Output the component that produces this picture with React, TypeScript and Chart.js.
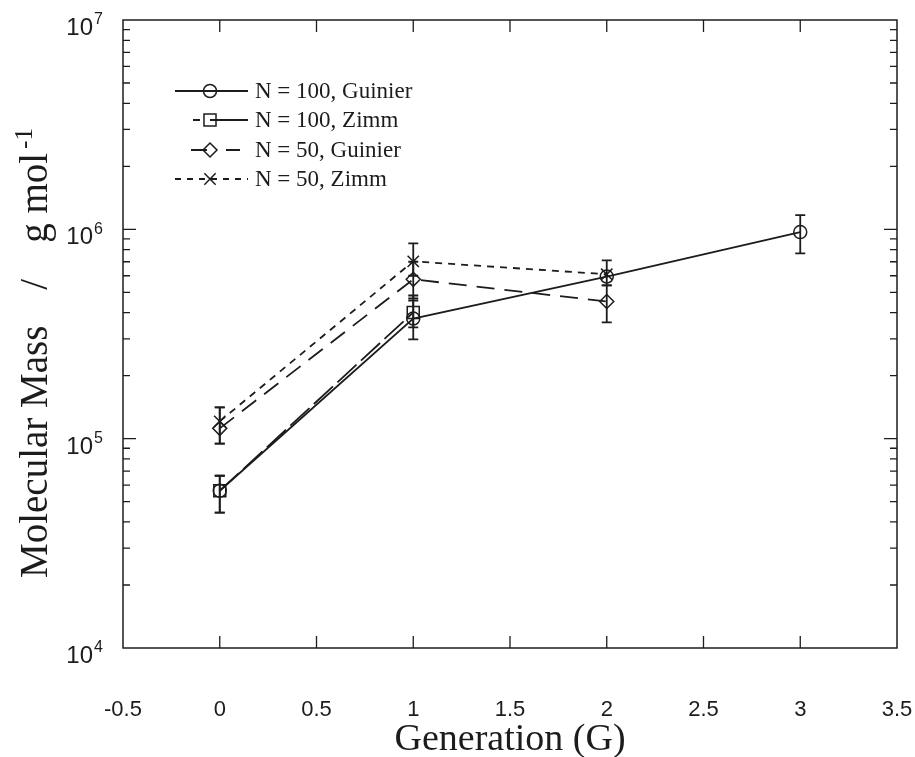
import React, { useEffect, useRef } from 'react';
import { Chart, registerables } from 'chart.js';

Chart.register(...registerables);

// ---------- data ----------
const gen100Guinier = [0, 1, 2, 3];
const n100Guinier = [5.64e4, 3.75e5, 5.95e5, 9.7e5];
const n100GuinierHi = [6.65e4, 4.57e5, null, 1.17e6];
const n100GuinierLo = [4.43e4, 2.98e5, null, 7.67e5];

const gen100Zimm = [0, 1];
const n100Zimm = [5.64e4, 4.01e5];
const n100ZimmHi = [6.65e4, 4.83e5];
const n100ZimmLo = [4.43e4, 3.4e5];

const gen50Guinier = [0, 1, 2];
const n50Guinier = [1.12e5, 5.77e5, 4.52e5];
const n50GuinierHi = [1.41e5, 7.0e5, 5.4e5];
const n50GuinierLo = [9.46e4, 4.68e5, 3.59e5];

const gen50Zimm = [0, 1, 2];
const n50Zimm = [1.21e5, 7.03e5, 6.1e5];
const n50ZimmHi = [1.41e5, 8.57e5, 7.1e5];
const n50ZimmLo = [9.46e4, 6.0e5, 5.4e5];

const seriesLabels = ['N = 100, Guinier', 'N = 100, Zimm', 'N = 50, Guinier', 'N = 50, Zimm'];
const yTickExponents = [4, 5, 6, 7];
const xTitle = 'Generation (G)';
const yTitleParts = ['Molecular Mass', '/', 'g mol'];
const yTitleSup = '-1';

const INK = '#1c1c1c';

function drawMarker(ctx: CanvasRenderingContext2D, style: string, x: number, y: number, r: number) {
  ctx.save();
  ctx.setLineDash([]);
  ctx.strokeStyle = INK;
  ctx.lineWidth = 1.5;
  ctx.beginPath();
  if (style === 'circle') {
    ctx.arc(x, y, r, 0, Math.PI * 2);
  } else if (style === 'rect') {
    const s = r * Math.SQRT1_2;
    ctx.rect(x - s, y - s, 2 * s, 2 * s);
  } else if (style === 'rectRot') {
    ctx.moveTo(x, y - r);
    ctx.lineTo(x + r, y);
    ctx.lineTo(x, y + r);
    ctx.lineTo(x - r, y);
    ctx.closePath();
  } else if (style === 'crossRot') {
    const s = r * Math.SQRT1_2;
    ctx.moveTo(x - s, y - s);
    ctx.lineTo(x + s, y + s);
    ctx.moveTo(x + s, y - s);
    ctx.lineTo(x - s, y + s);
  }
  ctx.stroke();
  ctx.restore();
}

const decor = {
  id: 'decor',
  beforeDatasetsDraw(chart: any) {
    const ctx: CanvasRenderingContext2D = chart.ctx;
    const xs = chart.scales.x;
    const ys = chart.scales.y;
    ctx.save();
    ctx.strokeStyle = INK;
    ctx.lineWidth = 1.8;
    ctx.setLineDash([]);
    chart.data.datasets.forEach((ds: any) => {
      ds.data.forEach((p: any, i: number) => {
        const hi = ds.errHi[i];
        const lo = ds.errLo[i];
        if (hi == null || lo == null) return;
        const x = xs.getPixelForValue(p.x);
        const yh = ys.getPixelForValue(hi);
        const yl = ys.getPixelForValue(lo);
        ctx.beginPath();
        ctx.moveTo(x, yh);
        ctx.lineTo(x, yl);
        ctx.moveTo(x - 5, yh);
        ctx.lineTo(x + 5, yh);
        ctx.moveTo(x - 5, yl);
        ctx.lineTo(x + 5, yl);
        ctx.stroke();
      });
    });
    ctx.restore();
  },
  afterDraw(chart: any) {
    const ctx: CanvasRenderingContext2D = chart.ctx;
    const xs = chart.scales.x;
    const ys = chart.scales.y;
    const { left, right, top, bottom } = chart.chartArea;
    ctx.save();
    ctx.strokeStyle = INK;
    ctx.fillStyle = INK;
    ctx.setLineDash([]);
    // frame
    ctx.lineWidth = 1.5;
    ctx.strokeRect(left, top, right - left, bottom - top);
    // x ticks
    ctx.lineWidth = 1.3;
    xs.ticks.forEach((t: any) => {
      const x = xs.getPixelForValue(t.value);
      if (x <= left + 1 || x >= right - 1) return;
      ctx.beginPath();
      ctx.moveTo(x, bottom);
      ctx.lineTo(x, bottom - 12);
      ctx.moveTo(x, top);
      ctx.lineTo(x, top + 12);
      ctx.stroke();
    });
    // y ticks
    for (let e = yTickExponents[0]; e < yTickExponents[yTickExponents.length - 1]; e++) {
      for (let m = 1; m <= 9; m++) {
        const v = m * Math.pow(10, e);
        const y = ys.getPixelForValue(v);
        if (m === 1 && e === yTickExponents[0]) continue;
        const len = m === 1 ? 13 : 7;
        ctx.beginPath();
        ctx.moveTo(left, y);
        ctx.lineTo(left + len, y);
        ctx.moveTo(right, y);
        ctx.lineTo(right - len, y);
        ctx.stroke();
      }
    }
    // x tick labels
    ctx.font = '22px "Liberation Sans"';
    ctx.textAlign = 'center';
    ctx.textBaseline = 'middle';
    xs.ticks.forEach((t: any) => {
      const x = xs.getPixelForValue(t.value);
      ctx.fillText(String(Math.round(t.value * 10) / 10), x, 710);
    });
    // y tick labels
    yTickExponents.forEach((e) => {
      const y = ys.getPixelForValue(Math.pow(10, e));
      ctx.font = '24px "Liberation Sans"';
      ctx.textAlign = 'right';
      ctx.textBaseline = 'middle';
      ctx.fillText('10', 93, y + 8.5);
      ctx.font = '16px "Liberation Sans"';
      ctx.textAlign = 'left';
      ctx.fillText(String(e), 94, y);
    });
    // x title
    ctx.font = '38px "Liberation Serif"';
    ctx.textAlign = 'center';
    ctx.textBaseline = 'alphabetic';
    ctx.fillText(xTitle, (left + right) / 2, 750);
    // y title
    ctx.save();
    ctx.translate(47, 578);
    ctx.rotate(-Math.PI / 2);
    ctx.font = '39px "Liberation Serif"';
    ctx.textAlign = 'left';
    let pos = 0;
    yTitleParts.forEach((part, i) => {
      ctx.fillText(part, pos, 0);
      pos += ctx.measureText(part).width + (i < yTitleParts.length - 1 ? 36 : 0);
    });
    ctx.font = '25px "Liberation Serif"';
    ctx.fillText(yTitleSup, pos + 4, -15);
    ctx.restore();
    // legend
    const rows = [91, 120, 150, 179];
    chart.data.datasets.forEach((ds: any, i: number) => {
      const y = rows[i];
      ctx.save();
      ctx.strokeStyle = INK;
      ctx.lineWidth = 1.8;
      ctx.setLineDash(ds.legendDash);
      ctx.beginPath();
      ctx.moveTo(ds.legendStart, y);
      ctx.lineTo(248, y);
      ctx.stroke();
      ctx.restore();
      drawMarker(ctx, ds.pointStyle, 210, y, ds.pointRadius);
      ctx.font = '23px "Liberation Serif"';
      ctx.textAlign = 'left';
      ctx.textBaseline = 'middle';
      ctx.fillStyle = INK;
      ctx.fillText(ds.label, 255, y + 1);
    });
    ctx.restore();
  },
};

function makeData(xsArr: number[], ysArr: number[]) {
  return xsArr.map((x, i) => ({ x, y: ysArr[i] }));
}

export default function App() {
  const ref = useRef<HTMLCanvasElement>(null);
  useEffect(() => {
    document.body.style.margin = '0';
    const canvas = ref.current!;
    const common = {
      borderColor: INK,
      borderWidth: 1.8,
      pointBorderColor: INK,
      pointBackgroundColor: 'rgba(0,0,0,0)',
      pointBorderWidth: 1.5,
      fill: false,
      tension: 0,
    };
    const chart = new Chart(canvas, {
      type: 'line',
      data: {
        datasets: [
          {
            ...common,
            label: seriesLabels[0],
            data: makeData(gen100Guinier, n100Guinier),
            errHi: n100GuinierHi,
            errLo: n100GuinierLo,
            borderDash: [],
            pointStyle: 'circle',
            pointRadius: 6.5,
            legendDash: [],
            legendStart: 175,
          },
          {
            ...common,
            label: seriesLabels[1],
            data: makeData(gen100Zimm, n100Zimm),
            errHi: n100ZimmHi,
            errLo: n100ZimmLo,
            borderDash: [26, 6],
            pointStyle: 'rect',
            pointRadius: 8.5,
            legendDash: [7, 10, 40, 4],
            legendStart: 193,
          },
          {
            ...common,
            label: seriesLabels[2],
            data: makeData(gen50Guinier, n50Guinier),
            errHi: n50GuinierHi,
            errLo: n50GuinierLo,
            borderDash: [18, 10],
            pointStyle: 'rectRot',
            pointRadius: 7,
            legendDash: [16, 19, 14, 30],
            legendStart: 191,
          },
          {
            ...common,
            label: seriesLabels[3],
            data: makeData(gen50Zimm, n50Zimm),
            errHi: n50ZimmHi,
            errLo: n50ZimmLo,
            borderDash: [7, 6],
            pointStyle: 'crossRot',
            pointRadius: 8,
            legendDash: [6, 6],
            legendStart: 175,
          },
        ] as any,
      },
      options: {
        responsive: false,
        animation: false,
        devicePixelRatio: 1,
        layout: { padding: { top: 20, right: 18, left: 0, bottom: 0 } },
        plugins: { legend: { display: false }, tooltip: { enabled: false } },
        scales: {
          x: {
            type: 'linear',
            min: -0.5,
            max: 3.5,
            ticks: { stepSize: 0.5, display: false },
            grid: { display: false, drawTicks: false },
            border: { display: false },
            afterFit: (s: any) => {
              s.height = 109;
            },
          },
          y: {
            type: 'logarithmic',
            min: 1e4,
            max: 1e7,
            ticks: { display: false },
            grid: { display: false, drawTicks: false },
            border: { display: false },
            afterFit: (s: any) => {
              s.width = 123;
            },
          },
        },
      } as any,
      plugins: [decor],
    });
    return () => chart.destroy();
  }, []);
  return (
    <div style={{ width: 915, height: 757, background: '#fff' }}>
      <canvas ref={ref} width={915} height={757} style={{ display: 'block' }} />
    </div>
  );
}
